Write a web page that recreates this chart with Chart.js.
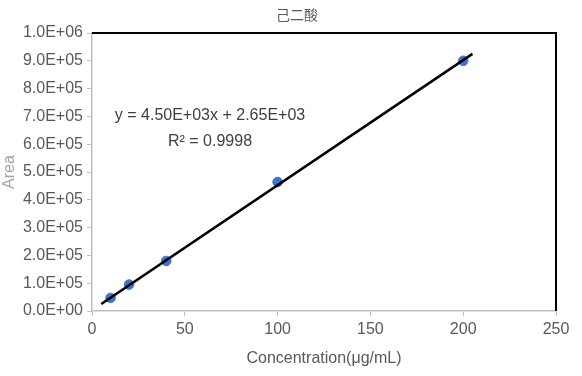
<!DOCTYPE html>
<html>
<head>
<meta charset="utf-8">
<script src="https://cdn.jsdelivr.net/npm/chart.js@4"></script>
<style>
  html, body { margin: 0; padding: 0; background: #fff; }
  #wrap { width: 582px; height: 376px; }
</style>
</head>
<body>
<div id="wrap"><canvas id="chart" width="582" height="376"></canvas></div>
<script>
// data
const concentrations = [10, 20, 40, 100, 200];
const areas = [47000, 95000, 180000, 464000, 900000];
// linear trendline end points (Excel-style, extended slightly past the data)
const trendX = [5, 205];
const trendY = [25150, 925150];
const chartTitle = "己二酸";
const equationText = "y = 4.50E+03x + 2.65E+03";
const r2Text = "R\u00B2 = 0.9998";

const FONT = "'Liberation Sans Narrow', 'Arial Narrow', 'Liberation Sans', sans-serif";

function sci(v) {
  if (v === 0) return "0.0E+00";
  const [m, e] = v.toExponential(1).toUpperCase().split("E");
  const sign = e[0];
  const digits = e.slice(1).padStart(2, "0");
  return m + "E" + sign + digits;
}

// black frame on top/right, the title and the equation label
const extras = {
  id: "extras",
  afterDatasetsDraw(chart) {
    const { ctx, chartArea: a } = chart;
    ctx.save();
    ctx.strokeStyle = "#000";
    ctx.lineWidth = 2;
    ctx.beginPath();
    ctx.moveTo(a.left, a.top);
    ctx.lineTo(a.right, a.top);
    ctx.lineTo(a.right, a.bottom);
    ctx.stroke();

    ctx.textAlign = "center";
    ctx.textBaseline = "middle";
    ctx.fillStyle = "#595959";
    ctx.font = "14px 'Noto Sans CJK SC', sans-serif";
    ctx.fillText(chartTitle, 297, 15);

    ctx.fillStyle = "#404040";
    ctx.font = "16px " + FONT;
    ctx.fillText(equationText, 210, 116);
    ctx.fillText(r2Text, 210, 142);
    ctx.restore();
  }
};

const ctx = document.getElementById("chart").getContext("2d");
new Chart(ctx, {
  type: "scatter",
  data: {
    datasets: [
      {
        type: "line",
        label: "trend",
        data: trendX.map((x, i) => ({ x: x, y: trendY[i] })),
        borderColor: "#000",
        borderWidth: 2.6,
        pointRadius: 0,
        fill: false,
        order: 0
      },
      {
        label: "Area",
        data: concentrations.map((x, i) => ({ x: x, y: areas[i] })),
        backgroundColor: "#4472c4",
        borderColor: "#4472c4",
        pointRadius: 4.8,
        order: 1
      }
    ]
  },
  options: {
    responsive: false,
    animation: false,
    layout: { padding: { top: 33, right: 26, bottom: 0, left: 0 } },
    plugins: {
      legend: { display: false },
      tooltip: { enabled: false },
      title: { display: false }
    },
    scales: {
      x: {
        type: "linear",
        min: 0,
        max: 250,
        ticks: { stepSize: 50, color: "#595959", font: { family: FONT, size: 16 }, padding: 4 },
        grid: { display: true, drawOnChartArea: false, drawTicks: true, tickLength: 5, color: "#bfbfbf" },
        border: { color: "#bfbfbf", width: 1.5 },
        title: { display: true, text: "Concentration(μg/mL)", color: "#595959", font: { family: FONT, size: 16 }, padding: { top: 2, bottom: 8 } },
        afterFit(scale) { scale.height = 65; }
      },
      y: {
        min: 0,
        max: 1000000,
        ticks: { stepSize: 100000, color: "#595959", font: { family: FONT, size: 16 }, padding: 4, callback: v => sci(v) },
        grid: { display: true, drawOnChartArea: false, drawTicks: true, tickLength: 5, color: "#bfbfbf" },
        border: { color: "#bfbfbf", width: 1.5 },
        title: { display: true, text: "Area", color: "#a6a6a6", font: { family: FONT, size: 16 }, padding: 0 },
        afterFit(scale) { scale.width = 92; }
      }
    }
  },
  plugins: [extras]
});
</script>
</body>
</html>
